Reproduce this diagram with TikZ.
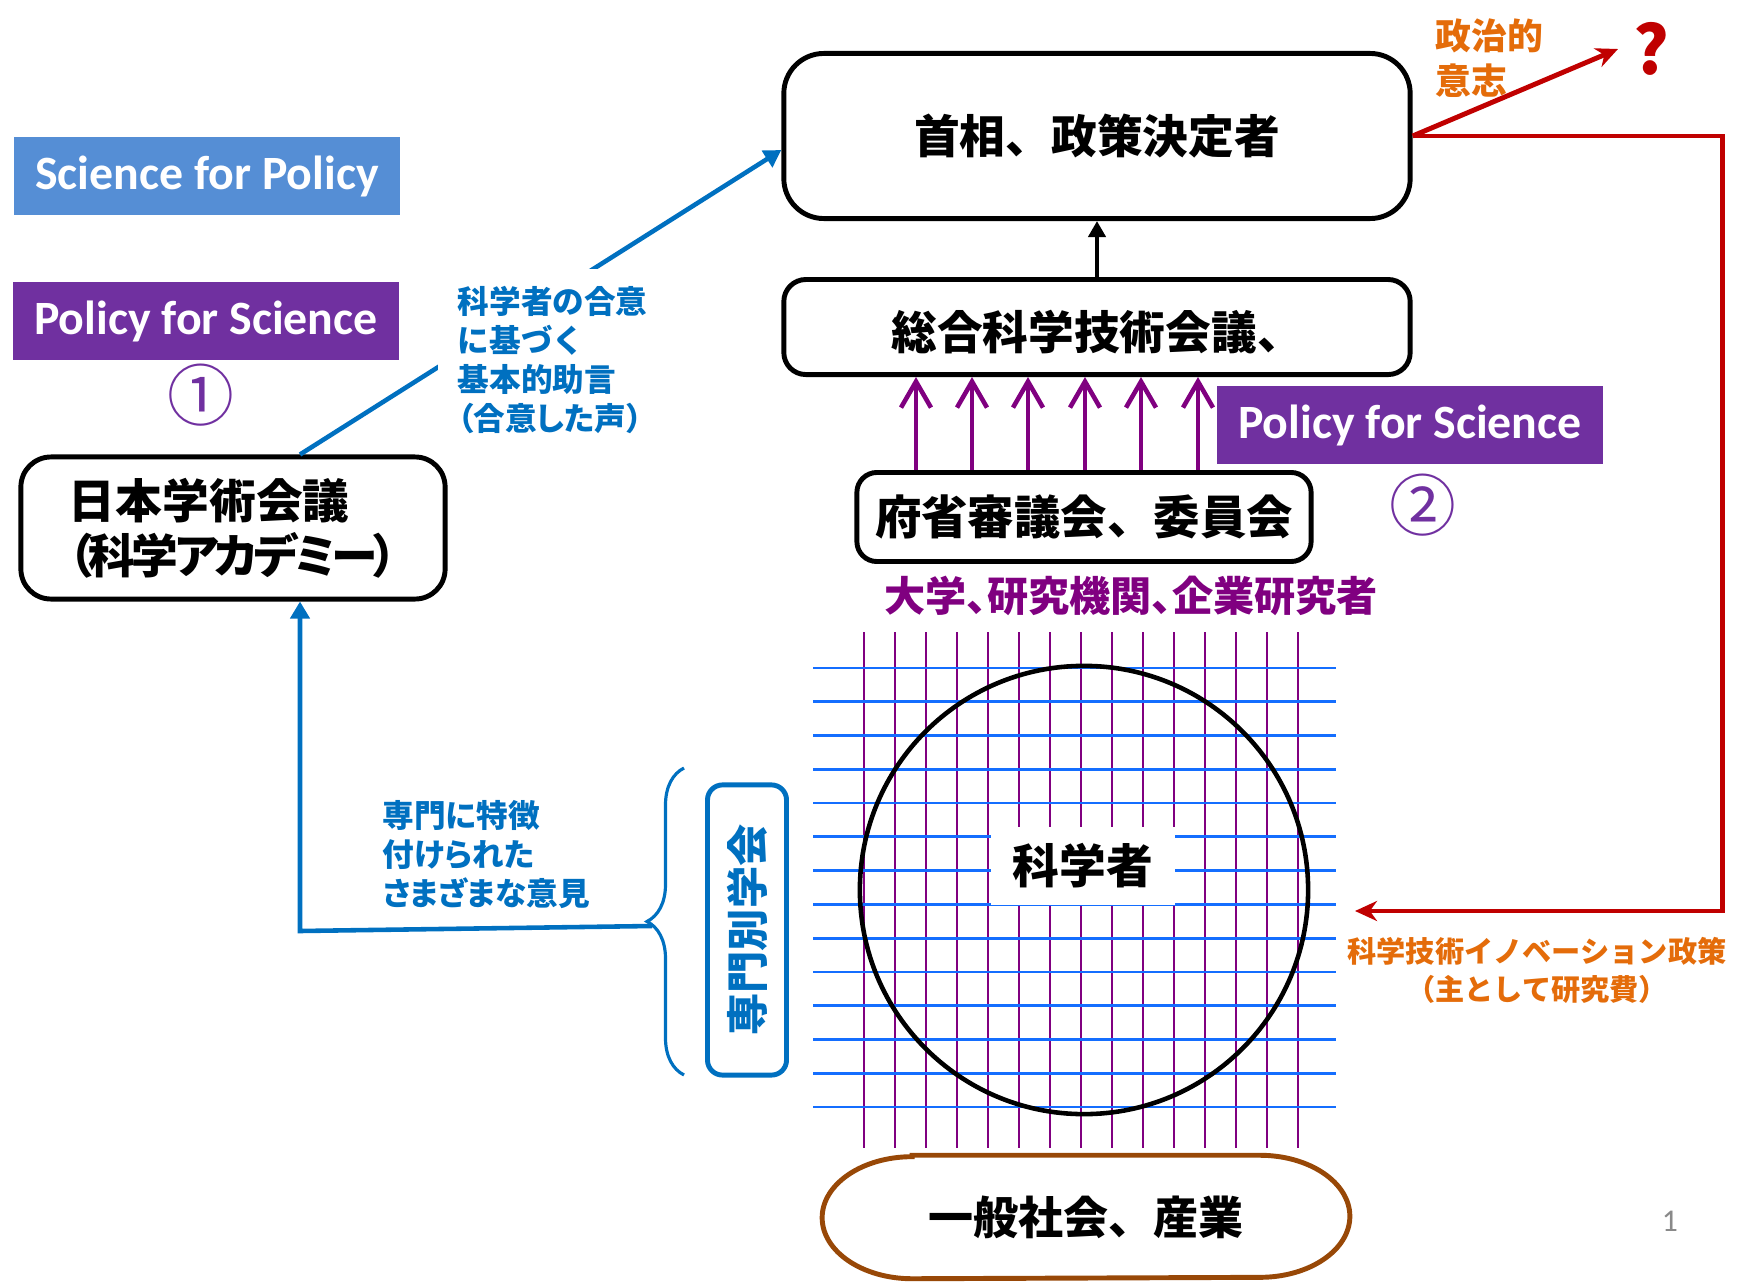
\documentclass[tikz,border=0pt]{standalone}
\usepackage{fontspec}
\setmainfont{Carlito}
\newfontfamily\jp{Noto Sans CJK JP}
\newfontfamily\jpp[RawFeature=+palt]{Noto Sans CJK JP}
\newfontfamily\jpt[RawFeature=+palt, LetterSpace=-8]{Noto Sans CJK JP}
\usetikzlibrary{positioning,arrows.meta,calc,decorations.pathreplacing}
\definecolor{sfpblue}{HTML}{558ED5}
\definecolor{pfspurple}{HTML}{7030A0}
\definecolor{linkblue}{HTML}{0070C0}
\definecolor{gridblue}{RGB}{20,110,255}
\definecolor{labpurple}{HTML}{800080}
\definecolor{polred}{HTML}{C00000}
\definecolor{polorange}{HTML}{E46C0A}
\definecolor{socbrown}{HTML}{984807}
\definecolor{pagegray}{RGB}{137,137,137}
\tikzset{
  mainbox/.style={draw=black, line width=1.4pt, align=center,
    font=\jp\bfseries\fontsize{13}{15}\selectfont},
  tagbox/.style={fill=#1, text=white, minimum width=3.86cm, minimum height=0.78cm,
    font=\bfseries\fontsize{13.6}{15}\selectfont},
  circnum/.style={text=pfspurple, font=\jp\fontsize{19}{19}\selectfont},
  bluelabel/.style={text=linkblue, align=left,
    font=\jp\bfseries\fontsize{9}{11}\selectfont},
  bluelink/.style={draw=linkblue, line width=1.3pt,
    -{Triangle[length=0.17cm,width=0.19cm]}},
  redlink/.style={draw=polred, line width=1.4pt,
    -{Stealth[length=0.22cm,width=0.2cm]}},
  feedup/.style={draw=labpurple, line width=1.3pt,
    -{Straight Barb[length=0.26cm,width=0.3cm]}},
  gridv/.style={draw=labpurple, line width=0.8pt},
  gridh/.style={draw=gridblue, line width=0.8pt}
}
\begin{document}
\begin{tikzpicture}[x=0.01cm, y=-0.01cm]
  \useasboundingbox (0,0) rectangle (1748,1282);

  % researchers grid
  \foreach \i in {0,...,14}
    \draw[gridv] ({864+31*\i},632) -- ({864+31*\i},1148);
  \foreach \j in {0,...,13}
    \draw[gridh] (813,{668+33.77*\j}) -- (1336,{668+33.77*\j});
  \draw[line width=1.3pt] (1084,890) circle[radius=2.24cm];
  \node[fill=white, minimum width=1.84cm, minimum height=0.78cm,
    font=\jp\bfseries\fontsize{13.3}{15}\selectfont] (scientists) at (1083,866) {科学者};

  \node[tagbox=sfpblue] (sfp) at (207,176) {Science for Policy};
  \node[tagbox=pfspurple] (pfsone) at (206,321) {Policy for Science};
  \node[tagbox=pfspurple] (pfstwo) at (1410,425) {Policy for Science};
  \node[circnum] (one) at (201,395) {①};
  \node[circnum] (two) at (1423,505) {②};

  \node[mainbox, rounded corners=0.4cm, minimum width=6.26cm, minimum height=1.65cm]
    (pm) at (1097,136) {首相、政策決定者};
  \node[mainbox, rounded corners=0.22cm, minimum width=6.26cm, minimum height=0.95cm,
    text height=15pt, text depth=2pt, below=0.56cm of pm] (cstp) {総合科学技術会議、};
  \node[mainbox, rounded corners=0.2cm, minimum width=4.54cm, minimum height=0.89cm,
    font=\jp\bfseries\fontsize{13.2}{15}\selectfont] (council) at (1084,517) {府省審議会、委員会};
  \node[mainbox, rounded corners=0.3cm, minimum width=4.24cm, minimum height=1.42cm,
    align=left, font=\jp\bfseries\fontsize{13.3}{15.6}\selectfont]
    (academy) at (233,528) {日本学術会議\\{\jpt（科学アカデミー）}};
  \node[draw=linkblue, line width=1.4pt, rounded corners=0.15cm, rotate=90,
    minimum width=2.9cm, minimum height=0.79cm, text=linkblue,
    font=\jp\bfseries\fontsize{12}{14}\selectfont] (societies) at (747,930) {専門別学会};
  \node[minimum width=5.26cm, minimum height=1.22cm,
    font=\jp\bfseries\fontsize{12.8}{15}\selectfont] (society) at (1086,1217) {一般社会、産業};
  \draw[draw=socbrown, line width=1.4pt]
    ([xshift=0.9cm]society.north west) -- ([xshift=-0.9cm]society.north east)
    arc[start angle=90, end angle=-90, x radius=0.9cm, y radius=0.61cm]
    -- ([xshift=0.9cm]society.south west)
    arc[start angle=270, end angle=90, x radius=0.9cm, y radius=0.61cm] -- cycle;

  \node[text=labpurple, font=\jpp\bfseries\fontsize{11.7}{13}\selectfont]
    (univ) at (1131,596) {大学、研究機関、企業研究者};

  \coordinate (bracetip) at (652,926);
  \coordinate (elbow) at (300,931);
  \coordinate (qtip) at (1618,49);
  \coordinate (fundtip) at (1355,911);

  \draw[draw=linkblue, line width=0.9pt, decorate, decoration={brace, amplitude=0.37cm}]
    (684,1075) -- (684,768);
  \draw[bluelink] (bracetip) -- (elbow) -- (elbow |- academy.south);
  \draw[bluelink] (elbow |- academy.north) -- ([yshift=-0.14cm]pm.west);
  \draw[line width=1.3pt, -{Triangle[length=0.16cm,width=0.17cm]}] (cstp.north) -- (pm.south);
  \foreach \x in {916,972,1028,1085,1141,1198}
    \draw[feedup] (council.north -| \x,0) -- (cstp.south -| \x,0);
  \draw[redlink] (pm.east) -- (qtip);
  \draw[redlink] (pm.east) -- ([xshift=3.1cm]pm.east) |- (fundtip);

  \node[bluelabel, fill=white, anchor=north west, inner xsep=0.2cm, inner ysep=0.18cm]
    (advice) at (437,268) {科学者の合意\\に基づく\\基本的助言\\{\jpp（合意した声）}};
  \node[bluelabel, anchor=north west, inner sep=0pt, font=\jpp\bfseries\fontsize{9}{11}\selectfont]
    (opinions) at (382,800) {専門に特徴\\付けられた\\さまざまな意見};
  \node[text=polorange, align=left, anchor=north west, inner sep=0pt,
    font=\jp\bfseries\fontsize{10.2}{12.8}\selectfont] (will) at (1435,18) {政治的\\意志};
  \node[text=polred, font=\jp\bfseries\fontsize{19}{19}\selectfont] (qmark) at (1651,49) {?};
  \node[text=polorange, align=center, font=\jp\bfseries\fontsize{8.3}{10.8}\selectfont]
    (funding) at (1537,970) {科学技術イノベーション政策\\（主として研究費）};
  \node[text=pagegray, font=\fontsize{9}{9}\selectfont] (pageno) at (1670,1221) {1};
\end{tikzpicture}
\end{document}
